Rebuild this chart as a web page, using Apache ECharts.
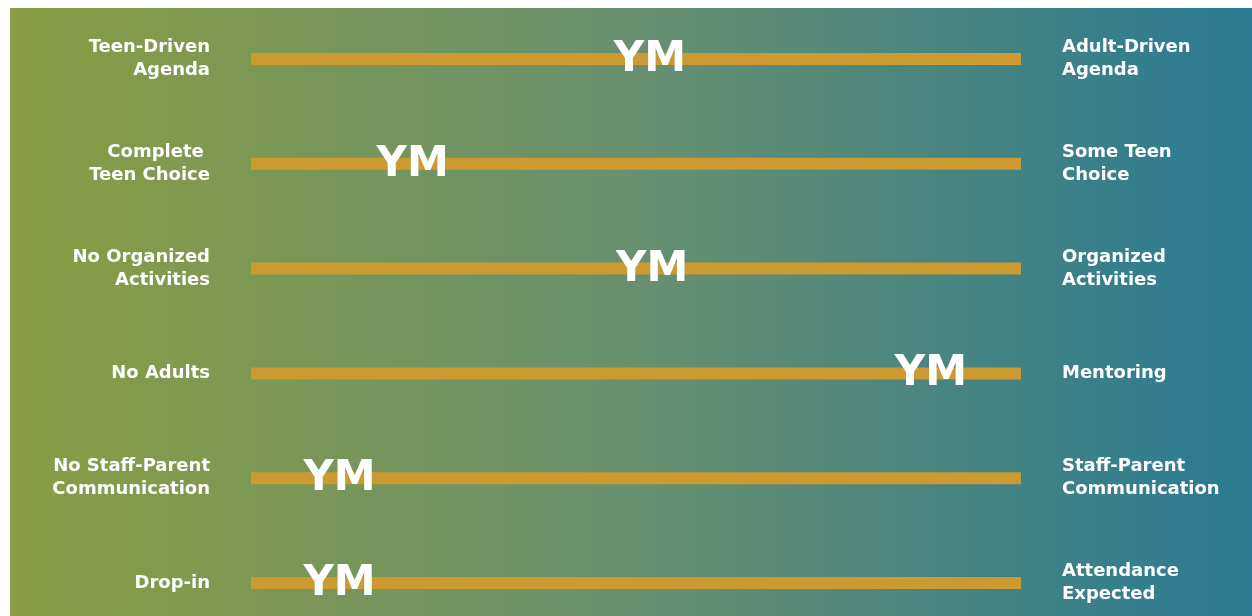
<!DOCTYPE html>
<html>
<head>
<meta charset="utf-8">
<title>YM continuum</title>
<script src="https://cdn.jsdelivr.net/npm/echarts@6/dist/echarts.min.js"></script>
<style>
  html, body { margin: 0; padding: 0; background: #ffffff; }
  #chart { width: 1252px; height: 616px; }
</style>
</head>
<body>
<div id="chart"></div>
<script>
// left end of each scale
const leftLabels = [
  'Teen-Driven\nAgenda',
  'Complete \nTeen Choice',
  'No Organized\nActivities',
  'No Adults',
  'No Staff-Parent\nCommunication',
  'Drop-in'
];
// right end of each scale
const rightLabels = [
  'Adult-Driven\nAgenda',
  'Some Teen\nChoice',
  'Organized\nActivities',
  'Mentoring',
  'Staff-Parent\nCommunication',
  'Attendance\nExpected'
];
// where the YM mark sits on each scale (0 = left, 100 = right)
const ymPosition = [51.8, 21.0, 52.1, 88.3, 11.5, 11.5];
// full length of every scale
const scaleLength = [100, 100, 100, 100, 100, 100];

const chart = echarts.init(document.getElementById('chart'));

const labelFont = {
  color: '#ffffff',
  fontFamily: 'DejaVu Sans',
  fontWeight: 'bold',
  fontSize: 18,
  lineHeight: 23
};

let option = {
  animation: false,
  // gradient panel behind everything
  graphic: [{
    type: 'rect',
    left: 10,
    top: 8,
    z: -10,
    silent: true,
    shape: {width: 1242, height: 608},
    style: {
      fill: new echarts.graphic.LinearGradient(0, 0, 1, 0, [
        {offset: 0, color: '#8a9d43'},
        {offset: 0.5, color: '#68906e'},
        {offset: 1, color: '#2a7a93'}
      ])
    }
  }],
  grid: {
    left: 251,
    right: 231,
    top: 59,
    bottom: 33
  },
  xAxis: {
    type: 'value',
    min: 0,
    max: 100,
    show: false
  },
  yAxis: [{
    type: 'category',
    data: leftLabels,
    inverse: true,
    boundaryGap: false,
    position: 'left',
    axisLine: {show: false},
    axisTick: {show: false},
    splitLine: {show: false},
    axisLabel: Object.assign({margin: 41, align: 'right'}, labelFont)
  }, {
    type: 'category',
    data: rightLabels,
    inverse: true,
    boundaryGap: false,
    position: 'right',
    axisLine: {show: false},
    axisTick: {show: false},
    splitLine: {show: false},
    axisLabel: Object.assign({margin: 41, align: 'left'}, labelFont)
  }],
  series: [{
    // the gold scale lines
    type: 'bar',
    data: scaleLength,
    barWidth: 12,
    silent: true,
    itemStyle: {color: '#cb9a31'}
  }, {
    // YM marks
    type: 'scatter',
    data: ymPosition.map(function (v, i) { return [v, i]; }),
    symbolSize: 1,
    silent: true,
    z: 5,
    itemStyle: {color: 'rgba(0,0,0,0)', opacity: 1},
    label: {
      show: true,
      position: 'inside',
      formatter: 'YM',
      color: '#ffffff',
      fontFamily: 'DejaVu Sans',
      fontWeight: 'bold',
      fontSize: 42,
      offset: [0, 1]
    }
  }]
};

chart.setOption(option);
</script>
</body>
</html>
